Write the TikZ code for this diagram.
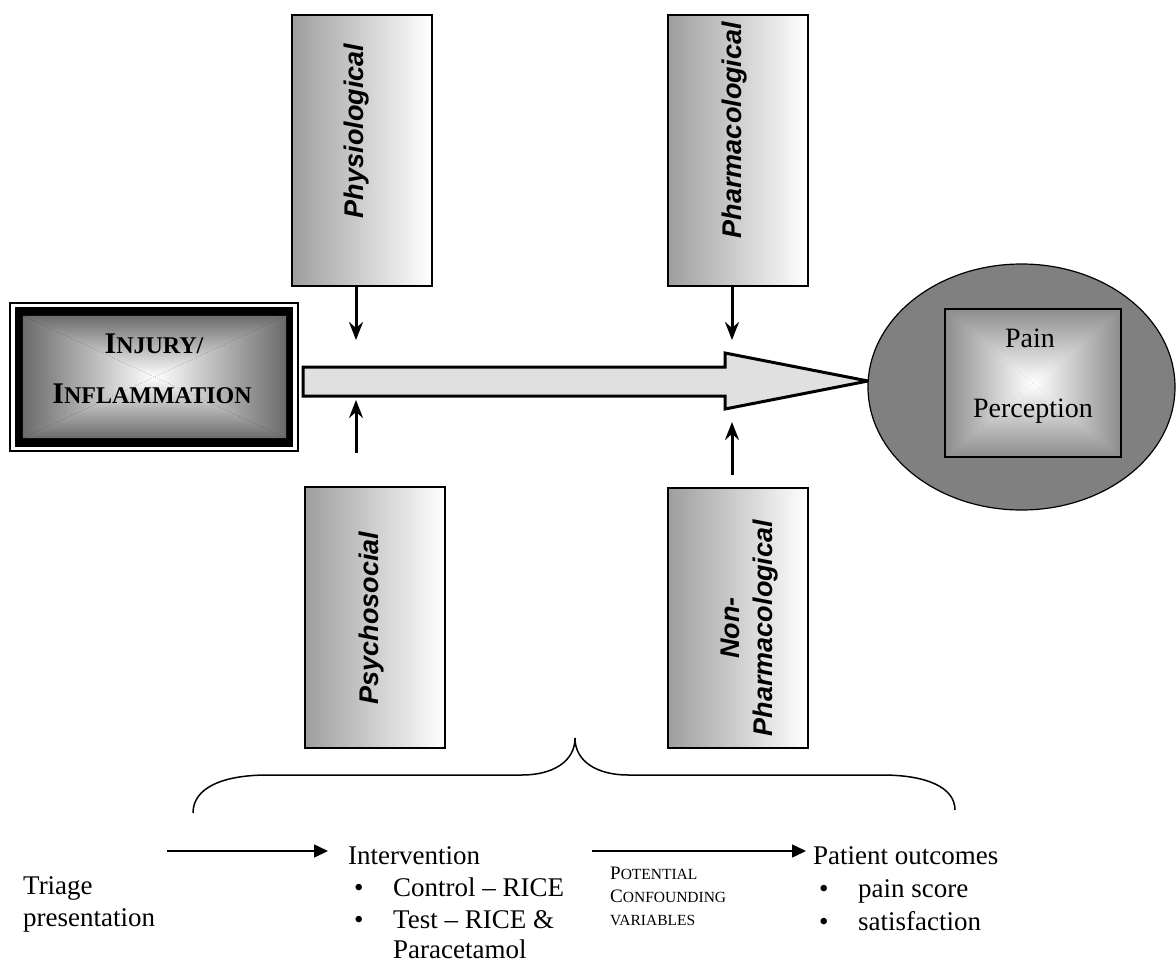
\documentclass[tikz,border=0pt]{standalone}
\usepackage{fontspec}
\setmainfont{Liberation Serif}
\setsansfont{Liberation Sans}
\usetikzlibrary{shapes.geometric,arrows.meta}
\definecolor{injedge}{gray}{0.42}
\definecolor{painedge}{gray}{0.55}
\definecolor{ellfill}{gray}{0.5}
\definecolor{sideleft}{gray}{0.62}
\definecolor{flowfill}{gray}{0.88}
\newcommand{\quadshade}[2]{%
  \shade[top color=#2, bottom color=white] (#1.north west) -- (#1.north east) -- (#1.center) -- cycle;
  \shade[top color=white, bottom color=#2] (#1.south west) -- (#1.south east) -- (#1.center) -- cycle;
  \shade[left color=#2, right color=white] (#1.north west) -- (#1.south west) -- (#1.center) -- cycle;
  \shade[left color=white, right color=#2] (#1.north east) -- (#1.south east) -- (#1.center) -- cycle;
}
\tikzset{
  sidebox/.style={draw, line width=1.5pt, left color=sideleft, right color=white, minimum width=140pt, inner sep=0pt},
  sidelabel/.style={rotate=90, font=\sffamily\bfseries\itshape\fontsize{27}{33}\selectfont, align=center, inner sep=0pt},
  fatarrow/.style={line width=3pt, -{Stealth[length=18pt,width=14pt,inset=6pt]}},
  thinarrow/.style={line width=1.5pt, -{Triangle[length=14pt,width=13pt]}},
  bodytext/.style={font=\fontsize{27}{33}\selectfont, anchor=base west, inner sep=0pt},
  bigtext/.style={font=\fontsize{28}{33}\selectfont, anchor=base, inner sep=0pt},
  plainbox/.style={draw=none, inner sep=0pt}
}
\begin{document}
\begin{tikzpicture}[x=1pt,y=-1pt]
\useasboundingbox (0,0) rectangle (1176,967);
\fill[white] (0,0) rectangle (1176,967);

% side boxes
\node[sidebox, minimum height=271pt] (phys) at (362,150.5) {};
\node[sidebox, minimum height=271pt] (pharm) at (738,150.5) {};
\node[sidebox, minimum height=261pt] (psych) at (375,617.5) {};
\node[sidebox, minimum height=260pt] (nonph) at (738,618) {};
\node[sidelabel] (physl) at (357,131) {Physiological};
\node[sidelabel] (pharml) at (735,130) {Pharmacological};
\node[sidelabel] (psychl) at (372,618) {Psychosocial};
\node[sidelabel] (nonphl) at (750,628) {Non-\\Pharmacological};

% injury box
\draw[line width=1.5pt] (10,303) rectangle (298,451);
\fill[black] (15,307) rectangle (293,447);
\node[plainbox, minimum width=263pt, minimum height=122pt] (inj) at (154.5,377) {};
\quadshade{inj}{injedge}
\node[anchor=base, inner sep=0pt] (injt1) at (154,353) {\bfseries\fontsize{30}{30}\selectfont I\fontsize{24}{24}\selectfont NJURY/};
\node[anchor=base, inner sep=0pt] (injt2) at (152,403) {\bfseries\fontsize{30}{30}\selectfont I\fontsize{24}{24}\selectfont NFLAMMATION};

% main flow arrow
\draw[line width=3pt, fill=flowfill, line join=miter] (303,367) -- (725,367) -- (725,353) -- (868,381) -- (725,409) -- (725,396) -- (303,396) -- cycle;

% pain perception
\node[ellipse, draw, line width=1.2pt, fill=ellfill, minimum width=307pt, minimum height=246pt, inner sep=0pt] (pe) at (1021.5,387) {};
\node[plainbox, minimum width=176pt, minimum height=148pt] (pp) at (1033,383) {};
\quadshade{pp}{painedge}
\draw[line width=1.5pt] (pp.north west) rectangle (pp.south east);
\node[bigtext] (pain1) at (1030,347) {Pain};
\node[bigtext] (pain2) at (1033,417) {Perception};

% small arrows
\coordinate (a1) at (356,340);
\coordinate (a2) at (732,340);
\coordinate (b1s) at (356,453);
\coordinate (b1) at (356,400);
\coordinate (b2s) at (732,475);
\coordinate (b2) at (732,422);
\draw[fatarrow] (phys.south -| a1) -- (a1);
\draw[fatarrow] (pharm.south -| a2) -- (a2);
\draw[fatarrow] (b1s) -- (b1);
\draw[fatarrow] (b2s) -- (b2);

% brace
\draw[line width=1.5pt] (193,813) .. controls (193,788) and (222,775) .. (268,775) -- (522,775) .. controls (552,775) and (575,762) .. (575,738) .. controls (575,762) and (598,775) .. (628,775) -- (882,775) .. controls (928,775) and (955,788) .. (955,810);

% bottom text
\node[bodytext] (tri1) at (23,894) {Triage};
\node[bodytext] (tri2) at (23,926) {presentation};
\node[bodytext] (interv) at (348,864) {Intervention};
\node[bodytext] (ib1) at (354,896) {\textbullet};
\node[bodytext] (it1) at (393,896) {Control – RICE};
\node[bodytext] (ib2) at (354,928) {\textbullet};
\node[bodytext] (it2) at (393,928) {Test – RICE \&};
\node[bodytext] (it3) at (393,958) {Paracetamol};
\node[anchor=base west, inner sep=0pt] (c1) at (610,879) {\fontsize{19}{19}\selectfont P\fontsize{15.5}{15.5}\selectfont OTENTIAL};
\node[anchor=base west, inner sep=0pt] (c2) at (610,902) {\fontsize{19}{19}\selectfont C\fontsize{15.5}{15.5}\selectfont ONFOUNDING};
\node[anchor=base west, inner sep=0pt] (c3) at (610,925) {\fontsize{15.5}{15.5}\selectfont VARIABLES};
\node[bodytext] (outc) at (813,864) {Patient outcomes};
\node[bodytext] (ob1) at (819,897) {\textbullet};
\node[bodytext] (ot1) at (858,897) {pain score};
\node[bodytext] (ob2) at (819,930) {\textbullet};
\node[bodytext] (ot2) at (858,930) {satisfaction};

\coordinate (t1) at (167,851);
\coordinate (t2) at (328,851);
\coordinate (t3) at (592,851);
\coordinate (t4) at (806,851);
\draw[thinarrow] (t1) -- (t2);
\draw[thinarrow] (t3) -- (t4);
\end{tikzpicture}
\end{document}
